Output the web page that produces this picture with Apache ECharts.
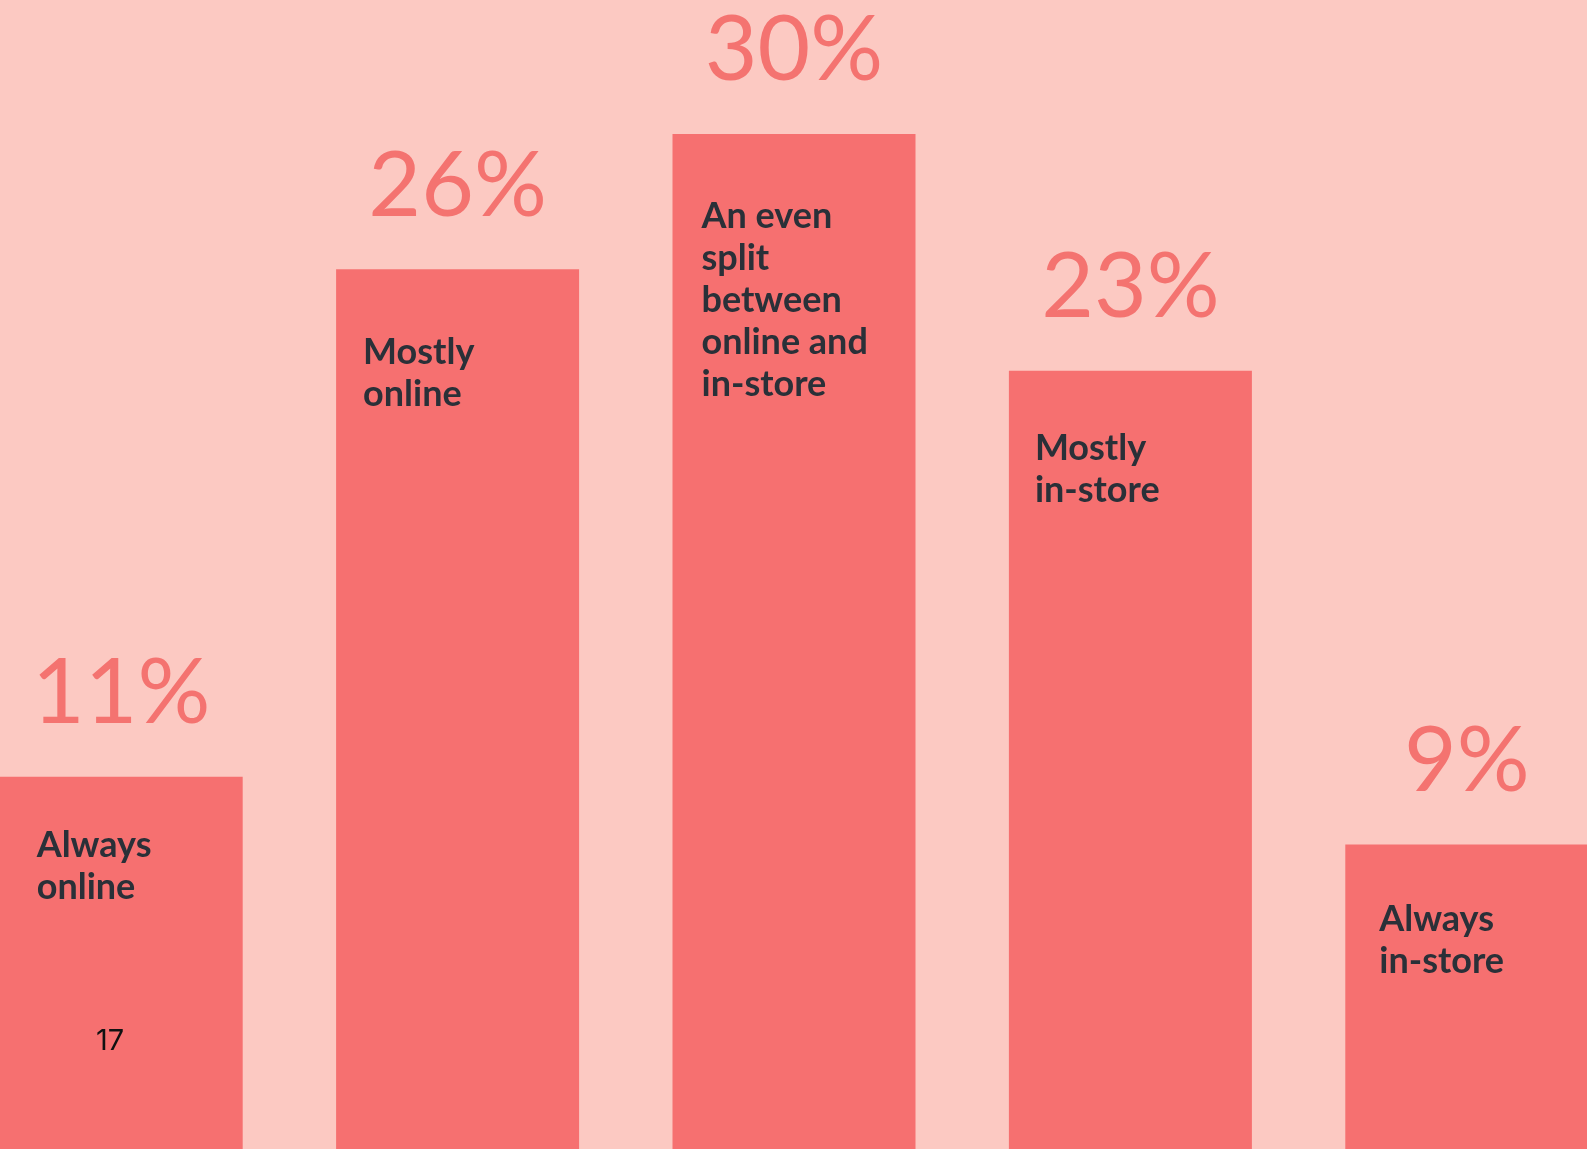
<!DOCTYPE html>
<html>
<head>
<meta charset="utf-8">
<script src="https://cdn.jsdelivr.net/npm/echarts@6/dist/echarts.min.js"></script>
<style>
  html, body { margin: 0; padding: 0; background: #fcc9c2; }
  #chart { width: 1587px; height: 1149px; }
</style>
</head>
<body>
<div id="chart"></div>
<script>
// Shopping channel preference, share of respondents (%)
const categories = [
  'Always\nonline',
  'Mostly\nonline',
  'An even\nsplit\nbetween\nonline and\nin-store',
  'Mostly\nin-store',
  'Always\nin-store'
];
const shares = [11, 26, 30, 23, 9];
const pageNumber = '17';

// Inset of each bar's name from the bar's top-left corner
const nameInset = [[37, 48], [27, 62], [29, 61], [26, 57], [34, 54]];

const BAR = '#f67070';
const INK = '#2a3038';

const chart = echarts.init(document.getElementById('chart'), null, { renderer: 'canvas' });

chart.setOption({
  backgroundColor: '#fcc9c2',
  animation: false,
  // the outer bars bleed to the page edges, so the grid runs past the canvas
  grid: {
    left: -47,
    top: 0,
    width: 1682,
    height: 1149,
    outerBoundsMode: 'none',
    containLabel: false
  },
  xAxis: {
    type: 'category',
    data: categories,
    show: false
  },
  yAxis: {
    type: 'value',
    min: 0,
    max: 33.96,
    show: false
  },
  series: [
    {
      type: 'bar',
      data: shares,
      barWidth: 243,
      itemStyle: { color: BAR },
      label: {
        show: true,
        position: 'top',
        distance: 33,
        formatter: p => p.value + '%',
        color: '#f47370',
        fontFamily: 'Lato',
        fontSize: 91,
        lineHeight: 100
      }
    },
    {
      type: 'bar',
      barGap: '-100%',
      barWidth: 243,
      silent: true,
      data: shares.map((v, i) => ({
        value: v,
        label: { offset: nameInset[i] }
      })),
      itemStyle: { color: 'rgba(0,0,0,0)' },
      label: {
        show: true,
        position: 'insideTopLeft',
        distance: 0,
        formatter: p => categories[p.dataIndex],
        color: INK,
        fontFamily: 'Lato',
        fontWeight: 'bold',
        fontSize: 36,
        lineHeight: 42,
        align: 'left'
      }
    }
  ],
  graphic: [
    {
      type: 'text',
      x: 96,
      y: 1027,
      z: 100,
      style: {
        text: pageNumber,
        fill: '#111111',
        fontSize: 29,
        fontFamily: 'Inter'
      }
    }
  ]
});
</script>
</body>
</html>
